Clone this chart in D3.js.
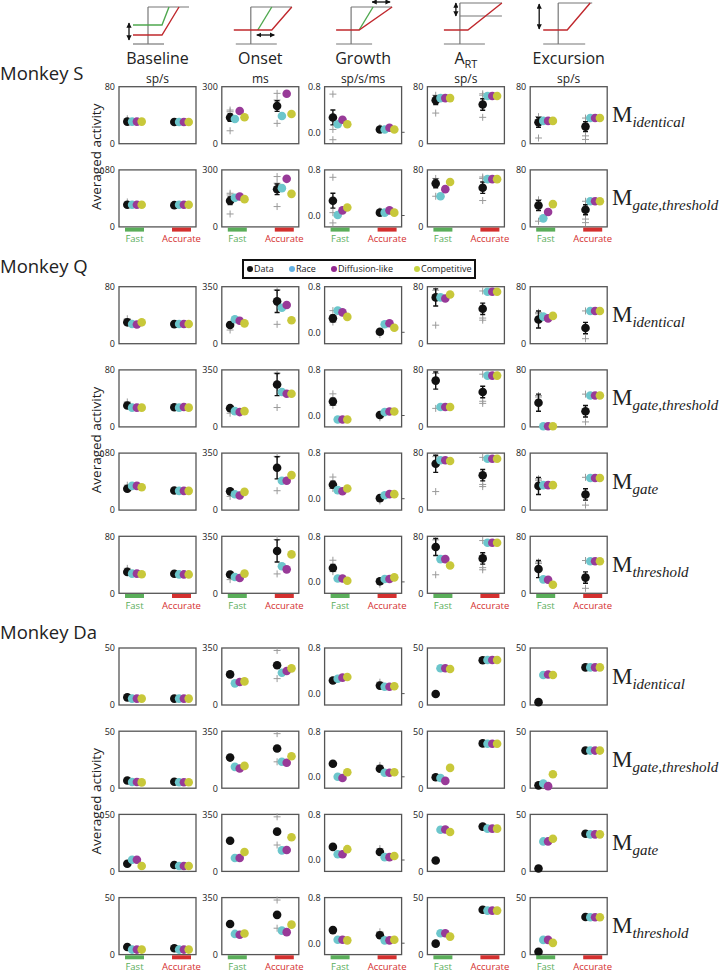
<!DOCTYPE html>
<html>
<head>
<meta charset="utf-8">
<script src="https://cdn.jsdelivr.net/npm/d3@7"></script>
<style>
body { margin: 0; background: #fff; }
text { font-family: "Open Sans", sans-serif; }
</style>
</head>
<body>
<svg id="chart" width="720" height="973"></svg>
<script>
var measures = ["Baseline", "Onset", "Growth", "A", "Excursion"]
var units = ["sp/s", "ms", "sp/s/ms", "sp/s", "sp/s"]
var conditions = ["Fast", "Accurate"]
var series = ["Data", "Race", "Diffusion-like", "Competitive"]
var seriesColors = ["#111111", "#6cc6cc", "#983a98", "#c8c83a"]
var legendColors = ["#111111", "#63b1e3", "#93278f", "#c6d43f"]
var conditionColors = ["#5aae5a", "#d4302f"]

var monkeyNames = ["Monkey S", "Monkey Q", "Monkey Da"]

// ---- Monkey S ----
var yTopS = [80, 300, 0.8, 80, 80]
var rowsS = ["identical", "gate,threshold"]
var meanS = [[31, 30.5], [138, 198], [0.26, 0.05], [61, 55], [30, 24]]
var errS = [[2, 1], [20, 28], [0.13, 0.03], [6, 8], [7, 7]]
var sessS = [[[35], []], [[168, 177, 68], [265, 230, 107]], [[0.67, 0.05, -0.13], [0.08]], [[43, 68], [70, 68, 37]], [[8, 38], [36, 11, 6]]]
// model rows -> measure -> [fast [race, diff, comp], accurate [...]]
var modelS = [
  [[[31, 31, 31], [30.5, 30.5, 30.5]], [[130, 172, 139], [146, 263, 156]], [[0.14, 0.22, 0.14], [0.05, 0.08, 0.05]], [[64, 64, 64], [67, 67, 67]], [[32, 32, 32], [36, 36, 36]]],
  [[[31, 31, 31], [31, 31, 31]], [[153, 160, 146], [204, 253, 174]], [[0.01, 0.09, 0.14], [0.05, 0.09, 0.05]], [[43, 53, 63], [67, 67, 67]], [[12, 21, 32], [36, 36, 36]]]
]

// ---- Monkey Q ----
var yTopQ = [80, 350, 0.8, 80, 80]
var rowsQ = ["identical", "gate,threshold", "gate", "threshold"]
var meanQ = [[30, 27.5], [115, 260], [0.245, 0.01], [65, 49], [34, 22]]
var errQ = [[2, 1], [15, 68], [0.06, 0.03], [12, 8], [12, 8]]
var sessQ = [[[35], []], [[84], [330, 119]], [[0.38, 0.18], [-0.04]], [[75, 26], [74, 36, 33]], [[44, 42], [46, 7]]]
var modelQ = [
  [[[27.6, 27, 30], [27.6, 27.6, 27.6]], [[150, 141, 125], [221, 238, 144]], [[0.38, 0.35, 0.27], [0.14, 0.16, 0.08]], [[65, 63.5, 69], [73, 73, 73]], [[38, 35.5, 39], [46, 46, 46]]],
  [[[27, 27, 27], [27, 28, 27]], [[97, 91, 97], [214, 204, 204]], [[-0.07, -0.07, -0.07], [0.06, 0.07, 0.07]], [[28, 28, 28], [72, 72, 72]], [[1, 1, 1], [44, 44, 44]]],
  [[[34, 34, 32], [27, 27, 27]], [[97, 90, 112], [180, 180, 215]], [[0.15, 0.13, 0.18], [0.06, 0.08, 0.08]], [[70, 70, 69], [72, 72, 72]], [[35, 35, 35], [45, 45, 45]]],
  [[[27.6, 27.6, 26.7], [26.5, 26.5, 26.5]], [[100, 94, 121], [166, 147, 239]], [[0.06, 0.06, 0.02], [0.05, 0.05, 0.08]], [[48, 48, 39], [71, 71, 71]], [[19.6, 19, 12], [45, 45, 45]]]
]

// ---- Monkey Da ----
var yTopDa = [50, 350, 0.8, 50, 50]
var rowsDa = ["identical", "gate,threshold", "gate", "threshold"]
var meanDa = [[6.7, 5.6], [188, 244], [0.23, 0.14], [9.6, 39.3], [2.5, 33]]
var errDa = [[0.8, 0.5], [4, 5], [0.02, 0.02], [1, 0.5], [0.8, 0.5]]
var sessDa = [[[], []], [[], [335, 162]], [[], [0.2]], [[], []], [[], []]]
var modelDa = [
  [[[5.6, 5.6, 5.6], [5.6, 5.6, 5.6]], [[133, 141, 145], [198, 209, 225]], [[0.26, 0.28, 0.29], [0.12, 0.12, 0.13]], [[32.2, 32.2, 31.6], [39.5, 39.5, 39.5]], [[26.3, 26.8, 26.3], [33, 33, 33]]],
  [[[5.4, 5.4, 5.1], [5.2, 5.2, 5.2]], [[131, 121, 137], [162, 156, 196]], [[0.0, -0.02, 0.08], [0.07, 0.07, 0.08]], [[9, 6.4, 17.8], [39, 39, 39]], [[4.1, 1.8, 12.3], [33, 33, 33]]],
  [[[10.2, 10.2, 4.7], [4.7, 4.7, 4.7]], [[82, 82, 119], [129, 131, 210]], [[0.1, 0.1, 0.19], [0.05, 0.05, 0.07]], [[36.6, 36.8, 34.5], [37.5, 37.5, 37.5]], [[26.3, 26.3, 28.7], [32.5, 32.5, 32.5]]],
  [[[4.4, 4.4, 4.4], [4.4, 4.4, 4.4]], [[127, 122, 130], [147, 138, 184]], [[0.06, 0.06, 0.05], [0.05, 0.05, 0.06]], [[18.7, 18.7, 15.8], [38.6, 38.6, 38.6]], [[12.9, 12.9, 10.3], [32.7, 32.7, 32.7]]]
]

var monkeys = [
  {name: monkeyNames[0], yTop: yTopS, rows: rowsS, mean: meanS, err: errS, sess: sessS, model: modelS, top: 86.7, titleY: 80},
  {name: monkeyNames[1], yTop: yTopQ, rows: rowsQ, mean: meanQ, err: errQ, sess: sessQ, model: modelQ, top: 286.7, titleY: 273},
  {name: monkeyNames[2], yTop: yTopDa, rows: rowsDa, mean: meanDa, err: errDa, sess: sessDa, model: modelDa, top: 648, titleY: 639}
]

var dimensions = {
  width: 720,
  height: 973,
  panelW: 77,
  panelH: 57,
  colX0: 119,
  colStep: 102.8,
  rowStep: 83.2
}
var W = dimensions.panelW, H = dimensions.panelH

var svg = d3.select("#chart")

var xScale = d3.scalePoint().domain(conditions).range([15.5, 62.5])
var offset = d3.scaleLinear().domain([0, 3]).range([-7.2, 7.2])

// ---- header icons ----
var colCenter = i => dimensions.colX0 + i * dimensions.colStep + W / 2
var icons = [
  {axes: [[[-9.5, 7], [-9.5, 44]], [[-9.5, 7], [31.5, 7]], [[-24.5, 44], [6.5, 44]]],
   green: [[-24.5, 25], [4.5, 25], [11.5, 7]], red: [[-24.5, 35], [4.5, 35], [21.5, 7]],
   arrows: [[[-28.5, 23], [-28.5, 40]]]},
  {axes: [[[-9.5, 7], [-9.5, 44]], [[-9.5, 7], [31.5, 7]], [[-24.5, 44], [16.5, 44]]],
   green: [[-2.5, 30], [11.5, 7]], red: [[-26.5, 30], [11.5, 30], [31.5, 7]],
   arrows: [[[-3.5, 35], [14, 35]]]},
  {axes: [[[-12, 7], [-12, 44]], [[-12, 7], [29, 7]], [[-27, 44], [9, 44]]],
   green: [[-4, 30], [10, 7]], red: [[-27, 30], [-4, 30], [29, 7]],
   arrows: [[[9, 2], [27, 2]]]},
  {axes: [[[-6, 3], [-6, 44]], [[-6, 3], [36, 3]], [[-6, 16], [36, 16]], [[-22, 44], [19, 44]]],
   green: null, red: [[-22, 30], [2, 30], [36, 3]],
   arrows: [[[-10, 3], [-10, 16]]]},
  {axes: [[[-10.5, 3], [-10.5, 44]], [[-10.5, 3], [23.5, 3]], [[-25.5, 44], [16.5, 44]]],
   green: null, red: [[-25.5, 30], [-1.5, 30], [21.5, 3]],
   arrows: [[[-29.5, 4], [-29.5, 29]]]}
]

var defs = svg.append("defs")
defs.append("marker").attr("id", "ah").attr("viewBox", "0 0 10 10").attr("refX", 9).attr("refY", 5)
  .attr("markerWidth", 4).attr("markerHeight", 4).attr("orient", "auto-start-reverse")
  .append("path").attr("d", "M0,0L10,5L0,10z").attr("fill", "#111")

var line = d3.line()
icons.forEach((ic, i) => {
  var g = svg.append("g").attr("transform", `translate(${colCenter(i)},0)`)
  ic.axes.forEach(a => g.append("path").attr("d", line(a)).attr("stroke", "#777").attr("stroke-width", 1.2).attr("fill", "none"))
  if (ic.green) g.append("path").attr("d", line(ic.green)).attr("stroke", "#4fa84f").attr("stroke-width", 1.4).attr("fill", "none")
  g.append("path").attr("d", line(ic.red)).attr("stroke", "#c0282d").attr("stroke-width", 1.4).attr("fill", "none")
  ic.arrows.forEach(a => g.append("path").attr("d", line(a)).attr("stroke", "#111").attr("stroke-width", 1.3)
    .attr("marker-start", "url(#ah)").attr("marker-end", "url(#ah)"))

  var t = svg.append("text").attr("x", colCenter(i)).attr("y", 64).attr("text-anchor", "middle")
    .style("font-size", "16px").attr("fill", "#222").text(measures[i])
  if (i == 3) t.append("tspan").attr("dy", 4).style("font-size", "11px").text("RT")
  svg.append("text").attr("x", colCenter(i)).attr("y", 83).attr("text-anchor", "middle")
    .style("font-size", "12px").attr("fill", "#222").text(units[i])
})

// ---- legend ----
var legend = svg.append("g")
legend.append("rect").attr("x", 243).attr("y", 260).attr("width", 232).attr("height", 18)
  .attr("fill", "none").attr("stroke", "#111").attr("stroke-width", 2)
var legendX = [250, 292, 334, 417]
series.forEach((s, i) => {
  legend.append("circle").attr("cx", legendX[i]).attr("cy", 269).attr("r", 3).attr("fill", legendColors[i])
  legend.append("text").attr("x", legendX[i] + 4).attr("y", 272.3).style("font-size", "9px").attr("fill", "#222").text(s)
})

// ---- panels ----
monkeys.forEach(mk => {
  svg.append("text").attr("x", 0).attr("y", mk.titleY).style("font-size", "18.5px").attr("fill", "#222").text(mk.name)

  var blockH = (mk.rows.length - 1) * dimensions.rowStep + H
  var cy = mk.top + blockH / 2
  svg.append("text").attr("transform", `translate(101,${cy}) rotate(-90)`).attr("text-anchor", "middle")
    .style("font-size", "13.5px").attr("fill", "#222").text("Averaged activity")

  mk.rows.forEach((rowName, ri) => {
    var top = mk.top + ri * dimensions.rowStep
    var lastRow = ri == mk.rows.length - 1

    measures.forEach((m, ci) => {
      var left = dimensions.colX0 + ci * dimensions.colStep
      var g = svg.append("g").attr("transform", `translate(${left},${top})`)
      var isGrowth = ci == 2
      var yScale = d3.scaleLinear().domain([isGrowth ? -0.2 : 0, mk.yTop[ci]]).range([H, 0])

      g.append("rect").attr("width", W).attr("height", H).attr("fill", "none")
        .attr("stroke", "#555").attr("stroke-width", 1.3)

      var yAxisGen = d3.axisLeft(yScale).tickValues([0, mk.yTop[ci]]).tickSize(0).tickPadding(4)
        .tickFormat(isGrowth ? d3.format(".1f") : d3.format("d"))
      var yAxis = g.append("g").call(yAxisGen)
      yAxis.select(".domain").remove()
      yAxis.selectAll("text").style("font-size", "9px").style("font-family", "Open Sans").attr("fill", "#222")
      if (isGrowth) {
        g.append("line").attr("x1", W).attr("x2", W + 3).attr("y1", yScale(0)).attr("y2", yScale(0))
          .attr("stroke", "#555").attr("stroke-width", 1)
      }

      conditions.forEach((c, k) => {
        var xc = xScale(c)
        var xd = xc + offset(0)
        // individual sessions
        g.selectAll(null).data(mk.sess[ci][k]).enter().append("path")
          .attr("transform", d => `translate(${xd},${yScale(d)})`)
          .attr("d", "M-3.5,0H3.5M0,-3.5V3.5").attr("stroke", "#9a9a9a").attr("stroke-width", 1)
        // error bar
        var mean = mk.mean[ci][k], err = mk.err[ci][k]
        g.append("path")
          .attr("d", `M${xd},${yScale(mean - err)}V${yScale(mean + err)}M${xd - 2.5},${yScale(mean - err)}H${xd + 2.5}M${xd - 2.5},${yScale(mean + err)}H${xd + 2.5}`)
          .attr("stroke", "#111").attr("stroke-width", 1.4).attr("fill", "none")
        var vals = [mean].concat(mk.model[ri][ci][k])
        g.selectAll(null).data(vals).enter().append("circle")
          .attr("cx", (d, i) => xc + offset(i))
          .attr("cy", d => yScale(d))
          .attr("r", 4.3)
          .attr("fill", (d, i) => seriesColors[i])

        if (lastRow) {
          g.append("rect").attr("x", xc - 9.5).attr("y", H + 0.7).attr("width", 19).attr("height", 4)
            .attr("fill", conditionColors[k])
          g.append("text").attr("x", xc).attr("y", H + 15.5).attr("text-anchor", "middle")
            .style("font-size", "9.5px").attr("fill", conditionColors[k]).text(c)
        }
      })
    })

    var lab = svg.append("text").attr("x", 612).attr("y", top + H / 2 + 7)
      .style("font-family", "Liberation Serif").style("font-size", "23px").attr("fill", "#222").text("M")
    lab.append("tspan").attr("dy", 5).style("font-size", "15px").style("font-style", "italic").text(rowName)
  })
})
</script>
</body>
</html>
